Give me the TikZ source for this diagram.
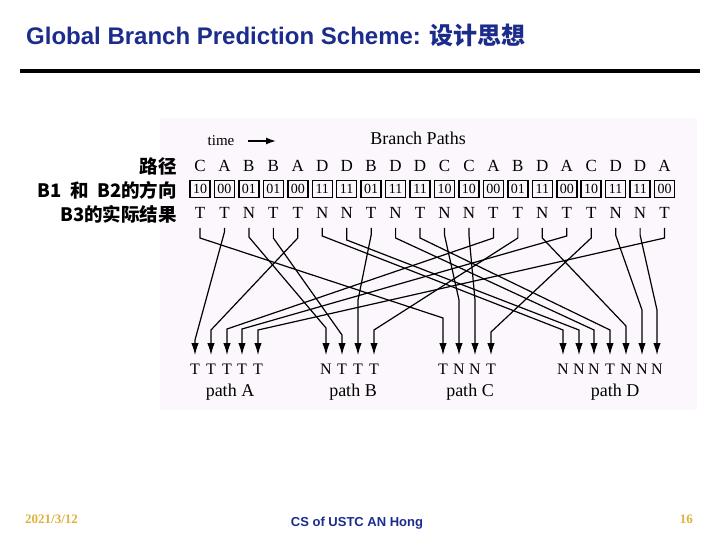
\documentclass[tikz,border=0pt]{standalone}
\usepackage{fontspec}
\usetikzlibrary{arrows.meta}
\setmainfont{Liberation Serif}
\newfontfamily\sansf{Liberation Sans}
\newfontfamily\cjk{Noto Sans CJK SC}
\definecolor{ttl}{RGB}{28,44,140}
\definecolor{gold}{RGB}{222,178,60}
\definecolor{scanbg}{RGB}{252,247,252}
\tikzset{
  lett/.style={inner sep=0pt, font=\fontsize{17}{19}\selectfont},
  bx/.style={draw, line width=1.5pt, minimum width=20pt, minimum height=17pt, inner sep=0pt, font=\fontsize{14}{15}\selectfont},
  blab/.style={inner sep=0pt, font=\fontsize{16}{18}\selectfont},
  plab/.style={inner sep=0pt, font=\fontsize{18}{20}\selectfont},
  cnlab/.style={anchor=east, inner sep=0pt, font=\cjk\bfseries\fontsize{18.5}{20}\selectfont},
  conn/.style={line width=1.2pt, -{Latex[length=12pt,width=7.5pt]}},
}
\begin{document}
\begin{tikzpicture}[x=1pt,y=-1pt]
\useasboundingbox (0,0) rectangle (720,540);
\fill[white] (0,0) rectangle (720,540);
% title
\node[anchor=base west, inner sep=0pt, text=ttl, font=\sansf\bfseries\fontsize{24}{27}\selectfont] (title) at (26,45) {Global Branch Prediction Scheme: {\cjk\bfseries 设计思想}};
\coordinate (r1) at (20,71);
\coordinate (r2) at (700,71);
\draw[line width=4.5pt] (r1) -- (r2);
% scanned figure background
\fill[scanbg] (160,118) rectangle (697,410);
% header
\node[inner sep=0pt, font=\fontsize{15}{17}\selectfont] (time) at (221,141) {time};
\coordinate (ta) at (248,141);
\coordinate (tb) at (276,141);
\draw[line width=1.4pt, -{Latex[length=10pt,width=7pt]}] (ta) -- (tb);
\node[inner sep=0pt, font=\fontsize{18}{20}\selectfont] (bp) at (418,138) {Branch Paths};
% left labels
\node[cnlab] (l1) at (177,166) {路径};
\node[cnlab] (l2) at (177,190) {B1\ \ 和\ \ B2的方向};
\node[cnlab] (l3) at (177,214) {B3的实际结果};
% columns
\foreach \L [count=\i] in {C,A,B,B,A,D,D,B,D,D,C,C,A,B,D,A,C,D,D,A}
  \node[lett] (p\i) at ({200+(\i-1)*24.45},166) {\L};
\foreach \c [count=\i] in {10,00,01,01,00,11,11,01,11,11,10,10,00,01,11,00,10,11,11,00}
  \node[bx] (b\i) at ({200+(\i-1)*24.45},189) {\c};
\foreach \L [count=\i] in {T,T,N,T,T,N,N,T,N,T,N,N,T,T,N,T,T,N,N,T}
  \node[lett] (r\i) at ({200+(\i-1)*24.45},213) {\L};
% bottom outcomes
\foreach \x/\v [count=\k] in {195/T,211/T,227/T,242/T,258/T,326/N,342/T,358/T,374/T,443/T,459/N,475/N,491/T,563/N,579/N,594/N,610/T,626/N,642/N,657/N}
  \node[blab] (o\k) at (\x,369) {\v};
\node[plab] (pa) at (230,392) {path A};
\node[plab] (pb) at (353,392) {path B};
\node[plab] (pc) at (470,392) {path C};
\node[plab] (pd) at (615,392) {path D};
% connectors
\foreach \i/\k/\ya/\yb in {1/10/238/318, 2/1/232/340, 3/6/237/328, 4/7/238/335, 5/2/238/330,
  6/14/236/330, 7/15/240/330, 8/8/235/300, 9/16/238/330, 10/17/238/330,
  11/11/235/300, 12/12/235/300, 13/3/238/329, 14/9/238/330, 15/18/238/326,
  16/4/236/329, 17/13/238/332, 18/19/235/310, 19/20/235/310, 20/5/238/330}
  \draw[conn] (r\i.center) ++(0,15) -- (r\i.center |- 0,\ya) -- (o\k.center |- 0,\yb) -- (o\k.center |- 0,355);
% footer
\node[anchor=base west, inner sep=0pt, text=gold, font=\bfseries\fontsize{13}{15}\selectfont] (date) at (25,523) {2021/3/12};
\node[anchor=base, inner sep=0pt, text=ttl, font=\sansf\bfseries\fontsize{13}{15}\selectfont] (foot) at (357,526) {CS of USTC AN Hong};
\node[anchor=base east, inner sep=0pt, text=gold, font=\bfseries\fontsize{13}{15}\selectfont] (pg) at (693,523) {16};
\end{tikzpicture}
\end{document}
